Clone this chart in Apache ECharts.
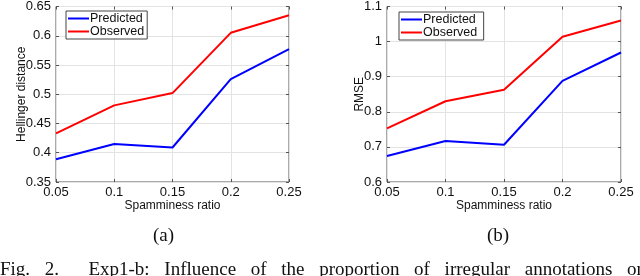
<!DOCTYPE html>
<html><head><meta charset="utf-8">
<script src="https://cdn.jsdelivr.net/npm/echarts@6/dist/echarts.min.js"></script>
<style>html,body{margin:0;padding:0;background:#fff}#c{width:640px;height:276px}</style>
</head><body><div id="c"></div>
<script>
const ratios = [0.05, 0.1, 0.15, 0.2, 0.25];
const helPredicted = [0.389, 0.415, 0.409, 0.526, 0.577];
const helObserved = [0.433, 0.481, 0.502, 0.605, 0.635];
const rmsePredicted = [0.674, 0.717, 0.706, 0.888, 0.969];
const rmseObserved = [0.753, 0.830, 0.863, 1.014, 1.060];
const captionWords = ["Fig.", "2.", "", "Exp1-b:", "Influence", "of", "the", "proportion", "of", "irregular", "annotations", "on"];

const chart = echarts.init(document.getElementById('c'), null, {renderer: 'canvas'});
const sans = 'Liberation Sans, Arial, sans-serif';
const serif = 'Liberation Serif, Times New Roman, serif';
const fmt = v => String(+v.toFixed(2));

function xAx(grid, pos) {
  return {
    type: 'value', gridIndex: grid, position: pos, min: 0.05, max: 0.25, interval: 0.05,
    axisLine: {show: false},
    axisTick: {show: true, inside: true, length: 3, lineStyle: {color: '#555'}},
    axisLabel: {show: pos === 'bottom', formatter: fmt, color: '#111', fontFamily: sans, fontSize: 13, margin: 4},
    splitLine: {show: pos === 'bottom', lineStyle: {color: '#e3e3e3', width: 1}},
    name: pos === 'bottom' ? 'Spamminess ratio' : '', nameLocation: 'middle', nameGap: 18,
    nameMoveOverlap: false,
    nameTextStyle: {color: '#111', fontFamily: sans, fontSize: 12, verticalAlign: 'top'}
  };
}
function yAx(grid, pos, min, max, interval, name, gap) {
  return {
    type: 'value', gridIndex: grid, position: pos, min: min, max: max, interval: interval,
    axisLine: {show: false},
    axisTick: {show: true, inside: true, length: 3, lineStyle: {color: '#555'}},
    axisLabel: {show: pos === 'left', formatter: fmt, color: '#111', fontFamily: sans, fontSize: 13, margin: 5},
    splitLine: {show: pos === 'left', lineStyle: {color: '#e3e3e3', width: 1}},
    name: pos === 'left' ? name : '', nameLocation: 'middle', nameGap: gap || 30,
    nameMoveOverlap: false,
    nameTextStyle: {color: '#111', fontFamily: sans, fontSize: 12}
  };
}
function line(name, x, y, data, color) {
  return {
    name: name, type: 'line', xAxisIndex: x, yAxisIndex: y,
    data: ratios.map((r, i) => [r, data[i]]),
    symbol: 'none', lineStyle: {color: color, width: 2}, itemStyle: {color: color},
    animation: false
  };
}
function legend(left, top, idx) {
  return {
    show: true, orient: 'vertical', left: left, top: top,
    data: idx === 0 ? ['Predicted', 'Observed'] : ['Predicted ', 'Observed '],
    icon: 'rect', itemWidth: 21, itemHeight: 2, itemGap: 0,
    padding: [1, 3, 1, 2],
    backgroundColor: '#fff', borderColor: '#444', borderWidth: 1,
    textStyle: {color: '#111', fontFamily: sans, fontSize: 12.5, lineHeight: 11, padding: [0, 0, 0, -4]},
    selectedMode: false
  };
}

// Justified caption line
const ctx = document.createElement('canvas').getContext('2d');
ctx.font = '19px ' + serif;
const widths = captionWords.map(w => ctx.measureText(w).width);
const totalW = widths.reduce((a, b) => a + b, 0);
const gaps = captionWords.length - 1;
const gapW = (646 - totalW) / gaps;
let xpos = 0;
const captionEls = captionWords.map((w, i) => {
  const el = {type: 'text', left: xpos, top: 261, style: {text: w, font: '19px ' + serif, fill: '#111'}};
  xpos += widths[i] + gapW;
  return el;
});

chart.setOption({
  animation: false,
  grid: [
    {left: 56, top: 5, width: 233, height: 177, show: true, borderColor: '#555', borderWidth: 1, backgroundColor: '#fff'},
    {left: 387, top: 6, width: 234, height: 176, show: true, borderColor: '#555', borderWidth: 1, backgroundColor: '#fff'}
  ],
  xAxis: [xAx(0, 'bottom'), xAx(0, 'top'), xAx(1, 'bottom'), xAx(1, 'top')],
  yAxis: [
    yAx(0, 'left', 0.35, 0.65, 0.05, 'Hellinger distance', 28), yAx(0, 'right', 0.35, 0.65, 0.05, ''),
    yAx(1, 'left', 0.6, 1.1, 0.1, 'RMSE', 21), yAx(1, 'right', 0.6, 1.1, 0.1, '')
  ],
  legend: [legend(66, 11, 0), legend(399, 12, 1)],
  series: [
    line('Predicted', 0, 0, helPredicted, '#0000ff'),
    line('Observed', 0, 0, helObserved, '#ff0000'),
    line('Predicted ', 2, 2, rmsePredicted, '#0000ff'),
    line('Observed ', 2, 2, rmseObserved, '#ff0000')
  ],
  graphic: [
    {type: 'text', left: 153, top: 227, style: {text: '(a)', font: '19px ' + serif, fill: '#111'}},
    {type: 'text', left: 487, top: 227, style: {text: '(b)', font: '19px ' + serif, fill: '#111'}}
  ].concat(captionEls)
});
</script></body></html>
